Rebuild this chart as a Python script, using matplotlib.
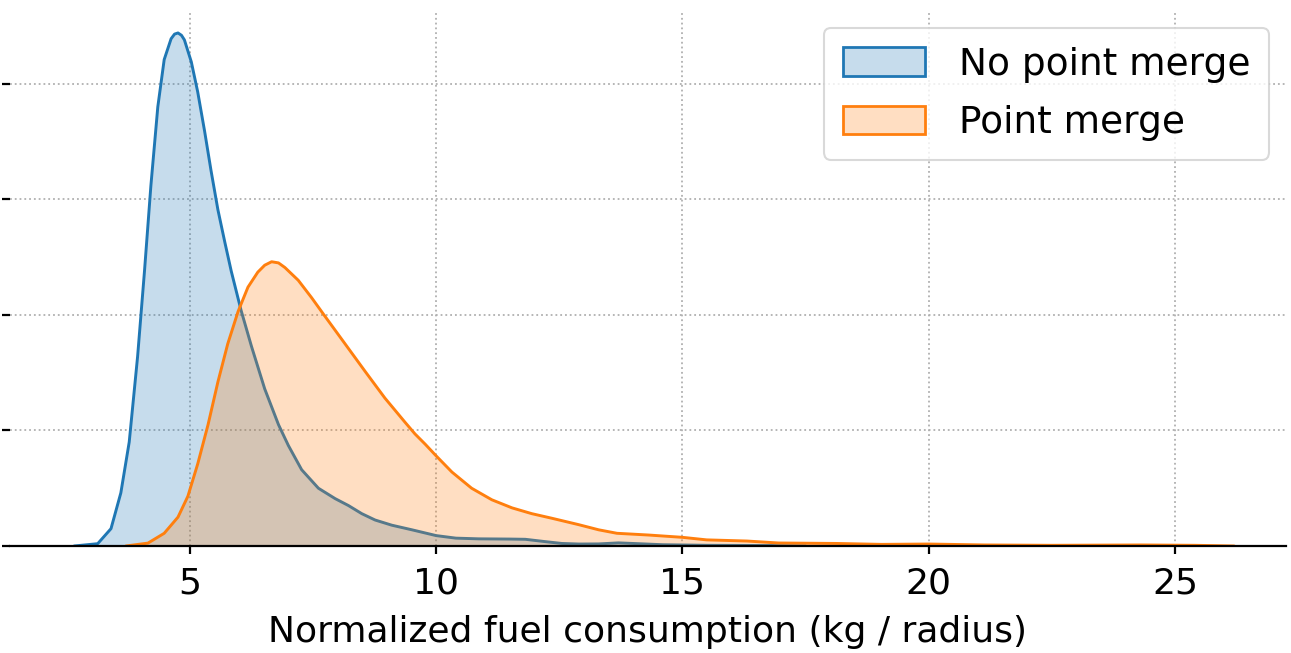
import matplotlib
matplotlib.use("Agg")
import matplotlib.pyplot as plt
from matplotlib.patches import Patch

# --- data (density curves) ---
no_merge_x = [2.65, 3.13, 3.40, 3.60, 3.77, 3.94, 4.08, 4.21, 4.35, 4.48, 4.62, 4.69, 4.76,
              4.83, 4.89, 5.03, 5.16, 5.30, 5.43, 5.57, 5.71, 5.84, 6.04, 6.25, 6.52, 6.80,
              7.00, 7.27, 7.61, 7.95, 8.22, 8.49, 8.76, 9.10, 9.51, 10.0, 10.4, 10.86,
              11.5, 11.81, 12.21, 12.55, 12.9, 13.3, 13.7, 14.1, 14.6, 15.5, 16.8, 17.5]
no_merge_y = [0.0, 0.002, 0.015, 0.046, 0.090, 0.164, 0.238, 0.312, 0.380, 0.421, 0.439, 0.443, 0.444,
              0.442, 0.438, 0.419, 0.393, 0.359, 0.325, 0.291, 0.263, 0.238, 0.204, 0.173, 0.136, 0.105,
              0.087, 0.066, 0.050, 0.041, 0.035, 0.028, 0.0225, 0.018, 0.014, 0.0090, 0.0068, 0.0062,
              0.0060, 0.0058, 0.0038, 0.0022, 0.0017, 0.0018, 0.0027, 0.0020, 0.0011, 0.0006, 0.0004, 0.0]

merge_x = [3.7, 4.15, 4.48, 4.76, 4.96, 5.16, 5.37, 5.57, 5.77, 5.98, 6.18, 6.38, 6.52,
           6.66, 6.80, 6.93, 7.20, 7.47, 7.74, 8.15, 8.56, 8.96, 9.37, 9.57, 9.78, 10.0,
           10.32, 10.72, 11.13, 11.54, 11.94, 12.35, 12.89, 13.3, 13.67, 14.31, 15.0, 15.49,
           16.31, 16.95, 18.13, 19.04, 20.0, 21.13, 22.49, 24.31, 25.4, 26.2]
merge_y = [0.0, 0.0025, 0.011, 0.025, 0.043, 0.071, 0.105, 0.142, 0.175, 0.203, 0.224, 0.237, 0.243,
           0.246, 0.245, 0.241, 0.230, 0.215, 0.199, 0.175, 0.151, 0.128, 0.107, 0.097, 0.088, 0.078,
           0.064, 0.050, 0.040, 0.033, 0.028, 0.024, 0.0185, 0.0140, 0.0110, 0.0095, 0.0075, 0.0053,
           0.0043, 0.0026, 0.0022, 0.0014, 0.0017, 0.0009, 0.0006, 0.0009, 0.0006, 0.0]

labels = ["No point merge", "Point merge"]
colors = ["#1f77b4", "#ff7f0e"]
x_ticks = [5, 10, 15, 20, 25]
y_ticks = [0.0, 0.1, 0.2, 0.3, 0.4]
x_label = "Normalized fuel consumption (kg / radius)"

plt.rcParams['font.family'] = ['DejaVu Sans']
FS = 26

fig = plt.figure(figsize=(12.91, 6.53), dpi=100)
ax = fig.add_axes([10 / 1291, 1 - 546 / 653, (1286 - 10) / 1291, (546 - 11) / 653])

series = [(no_merge_x, no_merge_y), (merge_x, merge_y)]
for i, ((xs, ys), c) in enumerate(zip(series, colors)):
    ax.fill_between(xs, ys, 0, facecolor=c, alpha=0.25, linewidth=0, zorder=2 + 2 * i)
    ax.plot(xs, ys, color=c, linewidth=2.1, zorder=3 + 2 * i,
            solid_capstyle='round', solid_joinstyle='round')

ax.set_xlim(1.35, 27.25)
ax.set_ylim(0, 0.463)
ax.set_xticks(x_ticks)
ax.set_xticklabels([str(t) for t in x_ticks], fontsize=FS)
ax.set_yticks(y_ticks)
ax.set_yticklabels([])
ax.tick_params(axis='both', length=6, width=1.6, color='black')
ax.tick_params(axis='x', pad=9)
ax.set_xlabel(x_label, fontsize=FS, labelpad=10)

for s in ['left', 'top', 'right']:
    ax.spines[s].set_visible(False)
ax.spines['bottom'].set_linewidth(1.6)
ax.spines['bottom'].set_zorder(10)

ax.grid(True, linestyle=':', color='#b0b0b0', linewidth=1.3)
ax.set_axisbelow(True)

handles = [Patch(facecolor=matplotlib.colors.to_rgba(c, 0.25), edgecolor=c, linewidth=2.0)
           for c in colors]
leg = ax.legend(handles, labels, loc='upper right', fontsize=27,
                handlelength=2.2, handleheight=0.8, handletextpad=0.9,
                borderaxespad=0.45, labelspacing=0.6, borderpad=0.5, fancybox=True)
leg.get_frame().set_edgecolor('#d0d0d0')
leg.get_frame().set_linewidth(1.5)

fig.savefig("out.png", dpi=100)
